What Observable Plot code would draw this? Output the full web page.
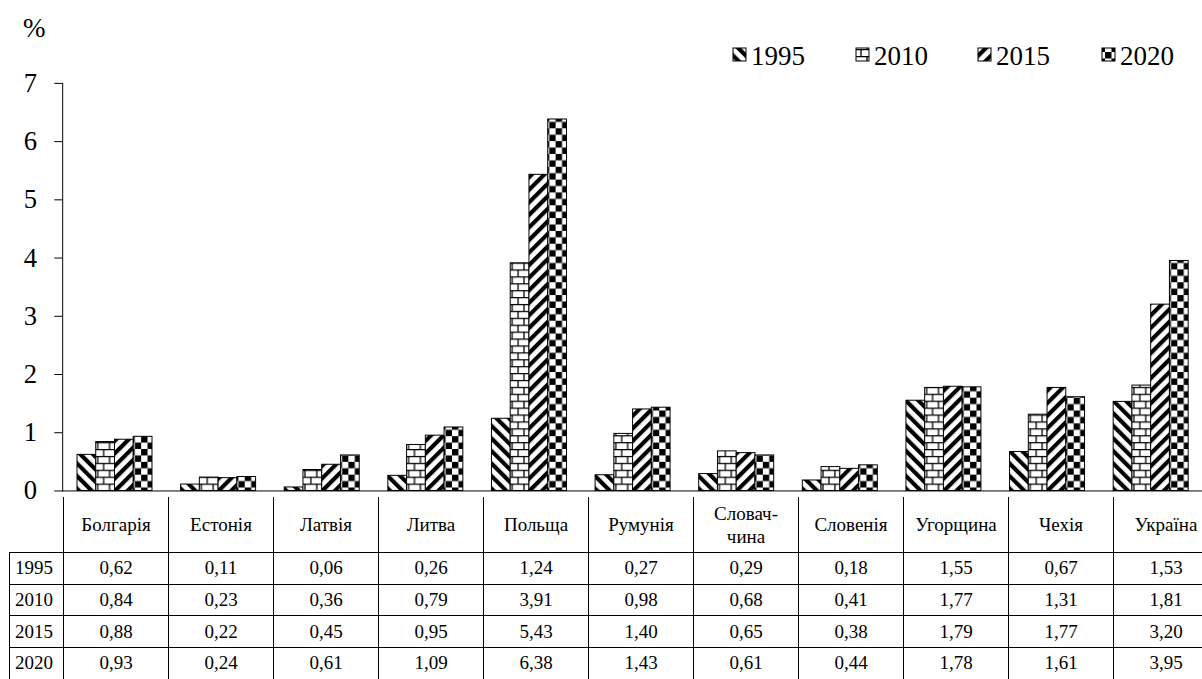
<!DOCTYPE html>
<html><head><meta charset="utf-8">
<script src="https://cdn.jsdelivr.net/npm/d3@7"></script>
<script src="https://cdn.jsdelivr.net/npm/@observablehq/plot@0.6"></script>
<style>
html,body{margin:0;padding:0;background:#fff;overflow:hidden}
#wrap{position:relative;width:1202px;height:679px;overflow:hidden;font-family:"Liberation Serif","Times New Roman",serif;color:#000}
#chart{position:absolute;left:0;top:0}
#legend{position:absolute;left:0;top:0}
#tbl{position:absolute;left:9px;top:497px;border-collapse:collapse;table-layout:fixed;width:1209px}
#tbl th,#tbl td{border:1px solid #000;padding:0;text-align:center;font-weight:normal;font-family:"Liberation Serif","Times New Roman",serif;font-size:19px;color:#000}
#tbl th{border-top:none;height:55px;line-height:23px}
#tbl th.corner{border-left:none;border-top:none}
#tbl td{height:30.7px}
#tbl td.yr{text-align:left;padding-left:5px}
</style></head>
<body><div id="wrap">
<div id="chart"></div>
<svg id="legend" width="1202" height="80">
  <defs>
    <pattern id="p1995" patternUnits="userSpaceOnUse" width="9" height="9" patternTransform="rotate(-45)">
      <rect width="9" height="9" fill="#fff"/><rect width="4.2" height="9" fill="#000"/>
    </pattern>
    <pattern id="p2010" patternUnits="userSpaceOnUse" width="12" height="14">
      <rect width="12" height="14" fill="#fff"/>
      <path d="M0 0.6H12M0 7.6H12M3 0V7M9 7V14" stroke="#000" stroke-width="1.3" fill="none"/>
    </pattern>
    <pattern id="p2015" patternUnits="userSpaceOnUse" width="9" height="9" patternTransform="rotate(45)">
      <rect width="9" height="9" fill="#fff"/><rect width="4.2" height="9" fill="#000"/>
    </pattern>
    <pattern id="p2020" patternUnits="userSpaceOnUse" width="13" height="13">
      <rect width="13" height="13" fill="#fff"/><rect width="6.5" height="6.5" fill="#000"/><rect x="6.5" y="6.5" width="6.5" height="6.5" fill="#000"/>
    </pattern>
  </defs>
  <text x="23" y="37" font-size="27" font-family="Liberation Serif, serif">%</text>
  <g id="legItems"></g>
</svg>
<table id="tbl"></table>
</div>
<script>
const countries = ["Болгарія","Естонія","Латвія","Литва","Польща","Румунія","Словаччина","Словенія","Угорщина","Чехія","Україна"];
const countryLabels = ["Болгарія","Естонія","Латвія","Литва","Польща","Румунія","Словач-<br>чина","Словенія","Угорщина","Чехія","Україна"];
const years = ["1995","2010","2015","2020"];
const v1995 = [0.62,0.11,0.06,0.26,1.24,0.27,0.29,0.18,1.55,0.67,1.53];
const v2010 = [0.84,0.23,0.36,0.79,3.91,0.98,0.68,0.41,1.77,1.31,1.81];
const v2015 = [0.88,0.22,0.45,0.95,5.43,1.40,0.65,0.38,1.79,1.77,3.20];
const v2020 = [0.93,0.24,0.61,1.09,6.38,1.43,0.61,0.44,1.78,1.61,3.95];
const yTicks = [0,1,2,3,4,5,6,7];

const seriesValues = [v1995, v2010, v2015, v2020];
const rows = [];
years.forEach((yr, i) => countries.forEach((c, j) => rows.push({country: c, year: yr, value: seriesValues[i][j]})));
const patternFills = years.map(y => `url(#p${y})`);

const chart = Plot.plot({
  width: 1218, height: 500,
  marginLeft: 63, marginRight: 0, marginTop: 84, marginBottom: 3,
  style: {fontFamily: '"Liberation Serif", serif', fontSize: "27px", color: "black", background: "transparent", overflow: "visible"},
  fx: {domain: countries, paddingInner: 0, paddingOuter: 0, axis: null, label: null},
  x: {domain: years, paddingInner: 0, paddingOuter: 0.734, axis: null},
  y: {domain: [0, 7]},
  color: {type: "ordinal", domain: years, range: patternFills},
  marks: [
    Plot.barY(rows, {fx: "country", x: "year", y: "value", fill: "year", stroke: "black", strokeWidth: 1}),
    Plot.ruleY([0], {stroke: "black", strokeWidth: 1}),
    Plot.frame({anchor: "left", facetAnchor: "left", stroke: "black"}),
    Plot.axisY({ticks: yTicks, tickSize: 8, tickPadding: 18, label: null, tickFormat: d => String(d)})
  ]
});
document.getElementById("chart").appendChild(chart);

// legend
const legX = [733, 856, 978, 1102];
const g = d3.select("#legItems");
years.forEach((y, i) => {
  g.append("rect").attr("x", legX[i]).attr("y", 48).attr("width", 13).attr("height", 13)
    .attr("fill", patternFills[i]).attr("stroke", "#000").attr("stroke-width", 1);
  g.append("text").attr("x", legX[i] + 18).attr("y", 65).attr("font-size", 27)
    .attr("font-family", "Liberation Serif, serif").text(y);
});

// data table
const fmt = v => v.toFixed(2).replace(".", ",");
const tbl = d3.select("#tbl");
const cg = tbl.append("colgroup");
cg.append("col").style("width", "54px");
countries.forEach(() => cg.append("col").style("width", "105px"));
const hr = tbl.append("tr");
hr.append("th").attr("class", "corner");
countryLabels.forEach(l => hr.append("th").html(l));
years.forEach((y, i) => {
  const tr = tbl.append("tr");
  tr.append("td").attr("class", "yr").text(y);
  seriesValues[i].forEach(v => tr.append("td").text(fmt(v)));
});
</script>
</body></html>
